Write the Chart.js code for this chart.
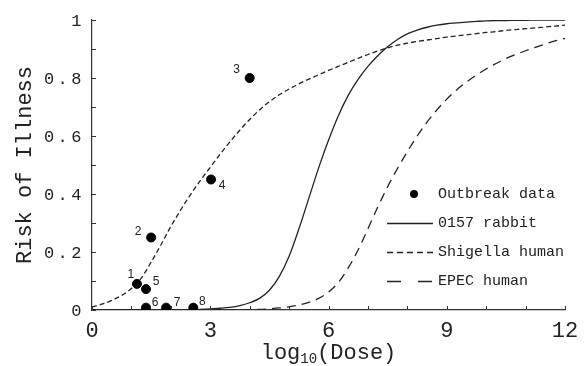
<!DOCTYPE html>
<html>
<head>
<meta charset="utf-8">
<script src="https://cdn.jsdelivr.net/npm/chart.js@4.4.0/dist/chart.umd.min.js"></script>
<style>
  html, body { margin: 0; padding: 0; background: #fff; }
  #wrap { width: 587px; height: 366px; }
</style>
</head>
<body>
<div id="wrap"><canvas id="doseChart"></canvas></div>
<script>
// --- Data ---
const doseGrid = [0, 0.25, 0.5, 0.75, 1, 1.25, 1.5, 1.75, 2, 2.25, 2.5, 2.75, 3, 3.25, 3.5, 3.75,
  4, 4.25, 4.5, 4.75, 5, 5.25, 5.5, 5.75, 6, 6.25, 6.5, 6.75, 7, 7.25, 7.5, 7.75,
  8, 8.25, 8.5, 8.75, 9, 9.25, 9.5, 9.75, 10, 10.25, 10.5, 10.75, 11, 11.25, 11.5, 11.75, 12];
const rabbitRisk = [0, 0, 0, 0, 0, 0, 0, 0, 0, 0, 0, 0.002, 0.004, 0.006, 0.009, 0.015,
  0.025, 0.040, 0.068, 0.115, 0.185, 0.280, 0.385, 0.490, 0.585, 0.670, 0.740, 0.795, 0.840, 0.877, 0.908, 0.933,
  0.952, 0.965, 0.975, 0.982, 0.987, 0.990, 0.993, 0.995, 0.997, 0.998, 0.998, 0.999, 0.999, 1, 1, 1, 1];
const shigellaRisk = [0.010, 0.020, 0.033, 0.050, 0.074, 0.110, 0.165, 0.225, 0.288, 0.345, 0.398, 0.447, 0.492, 0.537, 0.580, 0.620,
  0.657, 0.690, 0.718, 0.742, 0.762, 0.780, 0.796, 0.811, 0.826, 0.840, 0.854, 0.868, 0.881, 0.893, 0.904, 0.913,
  0.920, 0.926, 0.931, 0.936, 0.941, 0.945, 0.949, 0.953, 0.957, 0.960, 0.964, 0.967, 0.970, 0.973, 0.976, 0.979, 0.982];
const epecRisk = [0, 0, 0, 0, 0, 0, 0, 0, 0, 0, 0, 0, 0, 0, 0, 0,
  0.001, 0.002, 0.004, 0.007, 0.011, 0.017, 0.026, 0.040, 0.062, 0.095, 0.145, 0.207, 0.280, 0.355, 0.425, 0.488,
  0.546, 0.600, 0.648, 0.690, 0.727, 0.759, 0.786, 0.810, 0.831, 0.850, 0.867, 0.881, 0.894, 0.906, 0.917, 0.928, 0.937];

const outbreakDose = [1.14, 1.5, 4.0, 3.02, 1.37, 1.37, 1.88, 2.57];
const outbreakRisk = [0.09, 0.25, 0.80, 0.45, 0.072, 0.008, 0.008, 0.008];
const outbreakIds = ["1", "2", "3", "4", "5", "6", "7", "8"];

const xTickLabels = ["0", "3", "6", "9", "12"];
const yTickLabels = ["0", "0.2", "0.4", "0.6", "0.8", "1"];
const seriesNames = ["Outbreak data", "0157 rabbit", "Shigella human", "EPEC human"];

const toPoints = (xs, ys) => xs.map((x, i) => ({ x, y: ys[i] }));

const MONO = '"Liberation Mono", "Courier New", monospace';
const INK = "#222";

// --- Inward ticks, y labels (letter spaced) and x title with subscript ---
const axisDecor = {
  id: "axisDecor",
  afterDraw(chart) {
    const { ctx, chartArea: a, scales: { x, y } } = chart;
    ctx.save();
    ctx.strokeStyle = "#333";
    ctx.lineWidth = 1;
    ctx.beginPath();
    x.ticks.forEach(t => {
      const px = Math.round(x.getPixelForValue(t.value)) + 0.5;
      ctx.moveTo(px, a.bottom);
      ctx.lineTo(px, a.bottom - 4);
    });
    y.ticks.forEach(t => {
      const py = Math.round(y.getPixelForValue(t.value)) + 0.5;
      ctx.moveTo(a.left, py);
      ctx.lineTo(a.left + 4, py);
    });
    ctx.stroke();

    ctx.fillStyle = INK;
    ctx.font = "17px " + MONO;
    ctx.letterSpacing = "3.5px";
    ctx.textAlign = "right";
    ctx.textBaseline = "alphabetic";
    yTickLabels.forEach((lab, i) => {
      const py = y.getPixelForValue(i * 0.2);
      ctx.fillText(lab, a.left - 7, py + 6);
    });

    ctx.letterSpacing = "0px";
    ctx.textAlign = "left";
    const big = "22px " + MONO, small = "14px " + MONO;
    ctx.font = big;
    const w1 = ctx.measureText("log").width;
    const w3 = ctx.measureText("(Dose)").width;
    ctx.font = small;
    const w2 = ctx.measureText("10").width;
    let cx = (a.left + a.right) / 2 - (w1 + w2 + w3) / 2;
    const base = 359;
    ctx.font = big;
    ctx.fillText("log", cx, base);
    cx += w1;
    ctx.font = small;
    ctx.fillText("10", cx, base + 4);
    cx += w2;
    ctx.font = big;
    ctx.fillText("(Dose)", cx, base);
    ctx.restore();
  }
};

// --- Numbers next to the outbreak points ---
const idOffsets = [[-6, -9], [-13, -6], [-13, -8], [11, 6], [10, -7], [9, -5], [11, -5], [9, -6]];
const pointIds = {
  id: "pointIds",
  afterDatasetsDraw(chart) {
    const ctx = chart.ctx;
    const meta = chart.getDatasetMeta(0);
    ctx.save();
    ctx.fillStyle = INK;
    ctx.font = '12px "Liberation Sans", Arial, sans-serif';
    ctx.textAlign = "center";
    ctx.textBaseline = "middle";
    meta.data.forEach((pt, i) => {
      ctx.fillText(outbreakIds[i], pt.x + idOffsets[i][0], pt.y + idOffsets[i][1]);
    });
    ctx.restore();
  }
};

// --- Legend inside the plot, lower right ---
const insideLegend = {
  id: "insideLegend",
  afterDraw(chart) {
    const ctx = chart.ctx;
    ctx.save();
    ctx.font = "15px " + MONO;
    ctx.textBaseline = "middle";
    ctx.fillStyle = INK;
    chart.data.datasets.forEach((ds, i) => {
      const yy = 194 + i * 29;
      if (ds.showLine) {
        ctx.strokeStyle = ds.borderColor;
        ctx.lineWidth = ds.borderWidth;
        ctx.setLineDash(ds.legendDash || []);
        ctx.beginPath();
        ctx.moveTo(387, yy + 0.5);
        ctx.lineTo(433, yy + 0.5);
        ctx.stroke();
        ctx.setLineDash([]);
      } else {
        ctx.beginPath();
        ctx.arc(414, yy, 4, 0, Math.PI * 2);
        ctx.fillStyle = "#000";
        ctx.fill();
        ctx.fillStyle = INK;
      }
      ctx.fillText(ds.label, 438, yy);
    });
    ctx.restore();
  }
};

const ctx = document.getElementById("doseChart").getContext("2d");
new Chart(ctx, {
  type: "scatter",
  data: {
    datasets: [
      {
        label: seriesNames[0],
        data: toPoints(outbreakDose, outbreakRisk),
        backgroundColor: "#000",
        borderColor: "#000",
        pointRadius: 4.5,
        showLine: false,
        clip: { left: 10, right: 10, top: 10, bottom: 0 }
      },
      {
        label: seriesNames[1],
        data: toPoints(doseGrid, rabbitRisk),
        showLine: true,
        borderColor: "#222",
        borderWidth: 1.3,
        pointRadius: 0,
        cubicInterpolationMode: "monotone",
        legendDash: []
      },
      {
        label: seriesNames[2],
        data: toPoints(doseGrid, shigellaRisk),
        showLine: true,
        borderColor: "#222",
        borderWidth: 1.3,
        borderDash: [5, 3],
        pointRadius: 0,
        cubicInterpolationMode: "monotone",
        legendDash: [6, 4]
      },
      {
        label: seriesNames[3],
        data: toPoints(doseGrid, epecRisk),
        showLine: true,
        borderColor: "#222",
        borderWidth: 1.3,
        borderDash: [9, 6],
        pointRadius: 0,
        cubicInterpolationMode: "monotone",
        legendDash: [14, 17]
      }
    ]
  },
  options: {
    responsive: true,
    maintainAspectRatio: false,
    animation: false,
    events: [],
    layout: { padding: { top: 20, right: 22, bottom: 0, left: 0 } },
    plugins: {
      legend: { display: false },
      tooltip: { enabled: false }
    },
    scales: {
      x: {
        type: "linear",
        min: 0,
        max: 12,
        afterFit: s => { s.height = 56; },
        border: { display: true, color: "#333", width: 1.2 },
        grid: { display: true, drawOnChartArea: false, drawTicks: false },
        ticks: {
          stepSize: 1,
          autoSkip: false,
          maxRotation: 0,
          padding: 8,
          color: INK,
          font: { family: MONO, size: 22 },
          callback: v => (v % 3 === 0 ? xTickLabels[v / 3] : "")
        }
      },
      y: {
        type: "linear",
        min: 0,
        max: 1,
        afterFit: s => { s.width = 92; },
        border: { display: true, color: "#333", width: 1.2 },
        grid: { display: true, drawOnChartArea: false, drawTicks: false },
        ticks: { stepSize: 0.1, display: false },
        title: {
          display: true,
          text: "Risk of Illness",
          color: INK,
          font: { family: MONO, size: 22 },
          padding: { top: 12, bottom: 0 }
        }
      }
    }
  },
  plugins: [axisDecor, pointIds, insideLegend]
});
</script>
</body>
</html>
